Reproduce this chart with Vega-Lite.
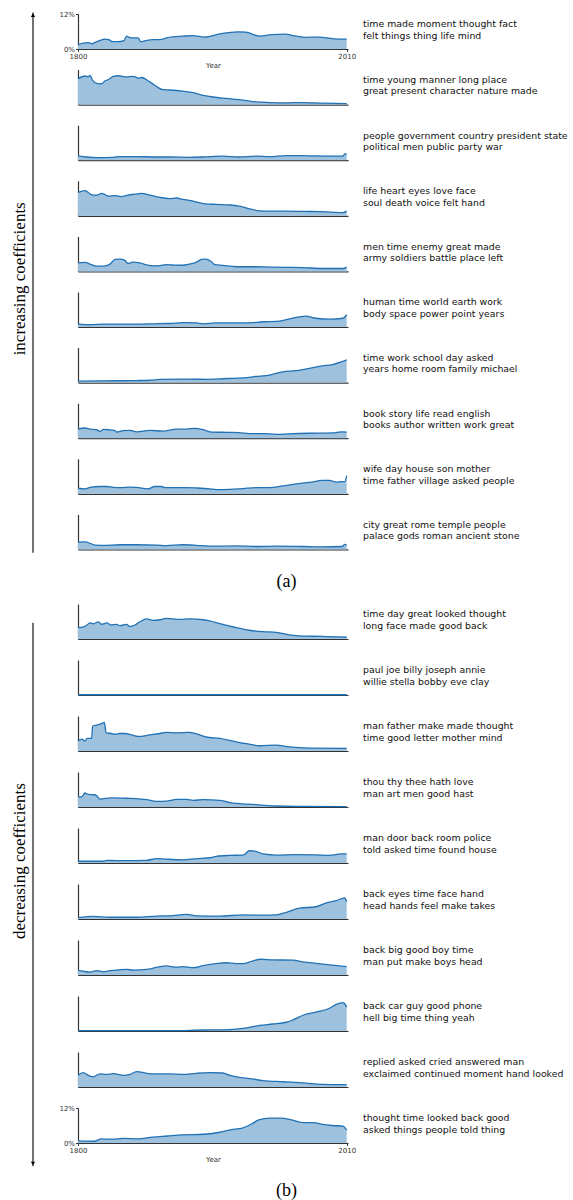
{
"$schema": "https://vega.github.io/schema/vega-lite/v6.json",
"padding": {"top": 10, "left": 0, "right": 0, "bottom": 0},
"datasets": {
"s": [
{"t":1,"x":1800,"y":1.4},{"t":1,"x":1804,"y":2.0},{"t":1,"x":1808,"y":2.2},{"t":1,"x":1811,"y":1.8},{"t":1,"x":1813,"y":2.2},{"t":1,"x":1817,"y":2.9},{"t":1,"x":1821,"y":3.4},{"t":1,"x":1824,"y":3.2},{"t":1,"x":1827,"y":2.5},{"t":1,"x":1831,"y":2.5},{"t":1,"x":1836,"y":2.9},{"t":1,"x":1838,"y":4.4},{"t":1,"x":1840,"y":4.0},{"t":1,"x":1843,"y":3.8},{"t":1,"x":1847,"y":3.8},{"t":1,"x":1849,"y":2.5},{"t":1,"x":1853,"y":2.9},{"t":1,"x":1859,"y":3.2},{"t":1,"x":1864,"y":3.2},{"t":1,"x":1870,"y":3.9},{"t":1,"x":1882,"y":4.4},{"t":1,"x":1890,"y":4.6},{"t":1,"x":1899,"y":4.1},{"t":1,"x":1911,"y":5.2},{"t":1,"x":1925,"y":5.9},{"t":1,"x":1931,"y":5.8},{"t":1,"x":1942,"y":4.4},{"t":1,"x":1951,"y":4.9},{"t":1,"x":1962,"y":5.1},{"t":1,"x":1968,"y":4.6},{"t":1,"x":1977,"y":4.0},{"t":1,"x":1988,"y":4.1},{"t":1,"x":2000,"y":3.5},{"t":1,"x":2010,"y":3.4},
{"t":2,"x":1800,"y":8.9},{"t":2,"x":1805.5,"y":9.8},{"t":2,"x":1808,"y":9.5},{"t":2,"x":1809.4,"y":10.0},{"t":2,"x":1811.4,"y":8.3},{"t":2,"x":1815,"y":7.2},{"t":2,"x":1818.5,"y":7.2},{"t":2,"x":1821,"y":8.1},{"t":2,"x":1824,"y":8.6},{"t":2,"x":1827.6,"y":9.7},{"t":2,"x":1831.5,"y":9.9},{"t":2,"x":1838,"y":9.5},{"t":2,"x":1843,"y":9.7},{"t":2,"x":1847,"y":9.1},{"t":2,"x":1849.7,"y":9.3},{"t":2,"x":1855,"y":8.1},{"t":2,"x":1858.8,"y":7.0},{"t":2,"x":1862.7,"y":5.8},{"t":2,"x":1866.6,"y":5.1},{"t":2,"x":1871.8,"y":5.0},{"t":2,"x":1882,"y":4.6},{"t":2,"x":1890,"y":4.1},{"t":2,"x":1897.8,"y":3.2},{"t":2,"x":1905.6,"y":2.6},{"t":2,"x":1916,"y":2.1},{"t":2,"x":1929,"y":1.5},{"t":2,"x":1939,"y":0.9},{"t":2,"x":1949.8,"y":0.7},{"t":2,"x":1962.8,"y":0.6},{"t":2,"x":1975.8,"y":0.7},{"t":2,"x":1991,"y":0.5},{"t":2,"x":2010,"y":0.35},
{"t":3,"x":1800,"y":1.5},{"t":3,"x":1807,"y":1.1},{"t":3,"x":1814.6,"y":0.9},{"t":3,"x":1827.6,"y":1.0},{"t":3,"x":1832.8,"y":1.25},{"t":3,"x":1845.8,"y":1.25},{"t":3,"x":1861.4,"y":1.1},{"t":3,"x":1871.8,"y":1.1},{"t":3,"x":1887,"y":1.0},{"t":3,"x":1897.8,"y":1.1},{"t":3,"x":1913,"y":1.4},{"t":3,"x":1926,"y":1.1},{"t":3,"x":1939,"y":1.4},{"t":3,"x":1949.8,"y":1.25},{"t":3,"x":1962.8,"y":1.6},{"t":3,"x":1981,"y":1.5},{"t":3,"x":1996.6,"y":1.4},{"t":3,"x":2007,"y":1.4},{"t":3,"x":2008.5,"y":2.2},{"t":3,"x":2010,"y":2.1},
{"t":4,"x":1800,"y":8.0},{"t":4,"x":1805.5,"y":8.6},{"t":4,"x":1808,"y":8.0},{"t":4,"x":1810.7,"y":7.2},{"t":4,"x":1814.6,"y":7.1},{"t":4,"x":1818.5,"y":7.7},{"t":4,"x":1821,"y":7.3},{"t":4,"x":1823.7,"y":6.7},{"t":4,"x":1829,"y":6.9},{"t":4,"x":1834,"y":6.6},{"t":4,"x":1839,"y":7.1},{"t":4,"x":1844.5,"y":7.4},{"t":4,"x":1849.7,"y":7.7},{"t":4,"x":1856,"y":7.1},{"t":4,"x":1864,"y":6.3},{"t":4,"x":1871.8,"y":5.9},{"t":4,"x":1877,"y":6.1},{"t":4,"x":1882,"y":5.6},{"t":4,"x":1887,"y":5.3},{"t":4,"x":1897.8,"y":4.2},{"t":4,"x":1908,"y":3.9},{"t":4,"x":1918.6,"y":3.7},{"t":4,"x":1926,"y":3.3},{"t":4,"x":1934,"y":2.4},{"t":4,"x":1942,"y":1.7},{"t":4,"x":1949.8,"y":1.6},{"t":4,"x":1962.8,"y":1.6},{"t":4,"x":1975.8,"y":1.5},{"t":4,"x":1991,"y":1.4},{"t":4,"x":2007,"y":1.1},{"t":4,"x":2010,"y":1.6},
{"t":5,"x":1800,"y":2.9},{"t":5,"x":1805.5,"y":3.1},{"t":5,"x":1809.4,"y":2.5},{"t":5,"x":1814.6,"y":1.8},{"t":5,"x":1820,"y":1.8},{"t":5,"x":1825,"y":2.5},{"t":5,"x":1829,"y":4.1},{"t":5,"x":1832.8,"y":4.2},{"t":5,"x":1836.7,"y":3.8},{"t":5,"x":1839,"y":2.7},{"t":5,"x":1843,"y":3.2},{"t":5,"x":1848.4,"y":2.9},{"t":5,"x":1853.6,"y":2.2},{"t":5,"x":1858.8,"y":1.9},{"t":5,"x":1864,"y":2.0},{"t":5,"x":1869,"y":2.3},{"t":5,"x":1874,"y":2.2},{"t":5,"x":1882,"y":2.1},{"t":5,"x":1887,"y":2.5},{"t":5,"x":1892.6,"y":3.2},{"t":5,"x":1896.5,"y":4.1},{"t":5,"x":1900,"y":4.2},{"t":5,"x":1904,"y":3.4},{"t":5,"x":1907,"y":2.3},{"t":5,"x":1913,"y":2.1},{"t":5,"x":1923.8,"y":1.6},{"t":5,"x":1936.8,"y":1.6},{"t":5,"x":1949.8,"y":1.5},{"t":5,"x":1962.8,"y":1.4},{"t":5,"x":1975.8,"y":1.3},{"t":5,"x":1991,"y":1.0},{"t":5,"x":2007,"y":1.0},{"t":5,"x":2010,"y":1.4},
{"t":6,"x":1800,"y":1.0},{"t":6,"x":1809.4,"y":0.8},{"t":6,"x":1820,"y":1.0},{"t":6,"x":1832.8,"y":1.0},{"t":6,"x":1845.8,"y":1.0},{"t":6,"x":1858.8,"y":1.1},{"t":6,"x":1871.8,"y":1.2},{"t":6,"x":1882,"y":1.5},{"t":6,"x":1892.6,"y":1.4},{"t":6,"x":1897.8,"y":1.1},{"t":6,"x":1908,"y":1.4},{"t":6,"x":1923.8,"y":1.4},{"t":6,"x":1934,"y":1.4},{"t":6,"x":1944.6,"y":1.8},{"t":6,"x":1955,"y":1.9},{"t":6,"x":1962.8,"y":2.5},{"t":6,"x":1973,"y":3.5},{"t":6,"x":1978,"y":3.7},{"t":6,"x":1986,"y":3.0},{"t":6,"x":1996.6,"y":2.7},{"t":6,"x":2007,"y":3.0},{"t":6,"x":2010,"y":4.2},
{"t":7,"x":1800,"y":0.5},{"t":7,"x":1820,"y":0.6},{"t":7,"x":1845.8,"y":0.7},{"t":7,"x":1856,"y":0.8},{"t":7,"x":1864,"y":1.1},{"t":7,"x":1884.8,"y":1.2},{"t":7,"x":1903,"y":1.1},{"t":7,"x":1916,"y":1.4},{"t":7,"x":1929,"y":1.6},{"t":7,"x":1939,"y":2.1},{"t":7,"x":1949.8,"y":2.6},{"t":7,"x":1960,"y":3.7},{"t":7,"x":1970.6,"y":4.1},{"t":7,"x":1981,"y":4.9},{"t":7,"x":1991,"y":5.7},{"t":7,"x":1999,"y":6.2},{"t":7,"x":2005.7,"y":7.1},{"t":7,"x":2010,"y":7.8},
{"t":8,"x":1800,"y":3.1},{"t":8,"x":1805.5,"y":3.5},{"t":8,"x":1809.4,"y":3.1},{"t":8,"x":1814.6,"y":2.9},{"t":8,"x":1817,"y":2.3},{"t":8,"x":1820,"y":3.0},{"t":8,"x":1823.7,"y":2.9},{"t":8,"x":1829,"y":2.6},{"t":8,"x":1830,"y":2.1},{"t":8,"x":1835.4,"y":2.6},{"t":8,"x":1840.6,"y":2.7},{"t":8,"x":1845.8,"y":2.2},{"t":8,"x":1856,"y":2.7},{"t":8,"x":1866.6,"y":2.4},{"t":8,"x":1877,"y":3.1},{"t":8,"x":1884.8,"y":3.1},{"t":8,"x":1891,"y":3.4},{"t":8,"x":1897.8,"y":2.9},{"t":8,"x":1903,"y":2.2},{"t":8,"x":1916,"y":2.0},{"t":8,"x":1926,"y":1.9},{"t":8,"x":1934,"y":1.6},{"t":8,"x":1944.6,"y":1.6},{"t":8,"x":1955,"y":1.3},{"t":8,"x":1965,"y":1.5},{"t":8,"x":1981,"y":1.7},{"t":8,"x":1999,"y":1.8},{"t":8,"x":2005.7,"y":2.2},{"t":8,"x":2010,"y":2.1},
{"t":9,"x":1800,"y":1.9},{"t":9,"x":1805.5,"y":1.7},{"t":9,"x":1809.4,"y":2.2},{"t":9,"x":1817,"y":2.5},{"t":9,"x":1822.4,"y":2.5},{"t":9,"x":1827.6,"y":2.2},{"t":9,"x":1832.8,"y":2.1},{"t":9,"x":1840.6,"y":2.3},{"t":9,"x":1845.8,"y":2.2},{"t":9,"x":1855,"y":1.7},{"t":9,"x":1860,"y":2.5},{"t":9,"x":1865,"y":2.5},{"t":9,"x":1869,"y":2.1},{"t":9,"x":1882,"y":2.1},{"t":9,"x":1892.6,"y":2.0},{"t":9,"x":1903,"y":1.7},{"t":9,"x":1908,"y":1.4},{"t":9,"x":1918.6,"y":1.5},{"t":9,"x":1929,"y":1.8},{"t":9,"x":1939,"y":2.1},{"t":9,"x":1949.8,"y":2.1},{"t":9,"x":1960,"y":2.7},{"t":9,"x":1970.6,"y":3.4},{"t":9,"x":1981,"y":3.9},{"t":9,"x":1991,"y":4.6},{"t":9,"x":1996.6,"y":4.6},{"t":9,"x":2001.8,"y":4.0},{"t":9,"x":2005.7,"y":4.2},{"t":9,"x":2008.5,"y":4.2},{"t":9,"x":2010,"y":6.2},
{"t":10,"x":1800,"y":2.5},{"t":10,"x":1805.5,"y":2.6},{"t":10,"x":1809.4,"y":2.1},{"t":10,"x":1813.3,"y":1.5},{"t":10,"x":1820,"y":1.4},{"t":10,"x":1832.8,"y":1.6},{"t":10,"x":1845.8,"y":1.6},{"t":10,"x":1861.4,"y":1.5},{"t":10,"x":1869,"y":1.3},{"t":10,"x":1882,"y":1.6},{"t":10,"x":1892.6,"y":1.4},{"t":10,"x":1903,"y":1.1},{"t":10,"x":1923.8,"y":1.2},{"t":10,"x":1939,"y":1.0},{"t":10,"x":1955,"y":1.1},{"t":10,"x":1975.8,"y":1.0},{"t":10,"x":1991,"y":0.9},{"t":10,"x":2006.5,"y":1.0},{"t":10,"x":2008.5,"y":1.7},{"t":10,"x":2010,"y":1.4},
{"t":11,"x":1800,"y":3.9},{"t":11,"x":1804,"y":4.1},{"t":11,"x":1807,"y":4.8},{"t":11,"x":1809.4,"y":5.5},{"t":11,"x":1812,"y":5.2},{"t":11,"x":1816,"y":5.9},{"t":11,"x":1818.5,"y":5.0},{"t":11,"x":1822.4,"y":5.5},{"t":11,"x":1826,"y":4.8},{"t":11,"x":1830,"y":5.0},{"t":11,"x":1832.8,"y":4.6},{"t":11,"x":1838,"y":5.0},{"t":11,"x":1840.6,"y":4.3},{"t":11,"x":1844.5,"y":4.8},{"t":11,"x":1848.4,"y":5.9},{"t":11,"x":1853.6,"y":6.9},{"t":11,"x":1858.8,"y":6.4},{"t":11,"x":1864,"y":6.6},{"t":11,"x":1869,"y":7.1},{"t":11,"x":1879.6,"y":6.7},{"t":11,"x":1887,"y":6.9},{"t":11,"x":1897.8,"y":6.6},{"t":11,"x":1903,"y":6.2},{"t":11,"x":1910.8,"y":5.3},{"t":11,"x":1923.8,"y":3.9},{"t":11,"x":1934,"y":3.0},{"t":11,"x":1944.6,"y":2.5},{"t":11,"x":1955,"y":2.3},{"t":11,"x":1965,"y":1.4},{"t":11,"x":1975.8,"y":1.0},{"t":11,"x":1991,"y":0.9},{"t":11,"x":2010,"y":0.6},
{"t":12,"x":1800,"y":0.08},{"t":12,"x":1900,"y":0.08},{"t":12,"x":2010,"y":0.08},
{"t":13,"x":1800,"y":3.4},{"t":13,"x":1803,"y":4.1},{"t":13,"x":1805.5,"y":3.4},{"t":13,"x":1807,"y":4.3},{"t":13,"x":1810.7,"y":4.3},{"t":13,"x":1811.4,"y":8.5},{"t":13,"x":1814.6,"y":8.9},{"t":13,"x":1818.5,"y":9.4},{"t":13,"x":1820.6,"y":9.8},{"t":13,"x":1822,"y":6.2},{"t":13,"x":1826,"y":6.0},{"t":13,"x":1829,"y":5.7},{"t":13,"x":1832.8,"y":6.0},{"t":13,"x":1836.7,"y":6.0},{"t":13,"x":1842,"y":5.5},{"t":13,"x":1847,"y":5.0},{"t":13,"x":1856,"y":5.5},{"t":13,"x":1864,"y":6.0},{"t":13,"x":1869,"y":6.4},{"t":13,"x":1877,"y":6.2},{"t":13,"x":1886,"y":6.4},{"t":13,"x":1892.6,"y":5.9},{"t":13,"x":1900,"y":4.8},{"t":13,"x":1910.8,"y":4.3},{"t":13,"x":1921,"y":3.4},{"t":13,"x":1931.6,"y":2.5},{"t":13,"x":1942,"y":1.8},{"t":13,"x":1955,"y":2.0},{"t":13,"x":1965,"y":1.4},{"t":13,"x":1981,"y":1.0},{"t":13,"x":2010,"y":0.9},
{"t":14,"x":1800,"y":3.5},{"t":14,"x":1803,"y":3.5},{"t":14,"x":1805.5,"y":4.8},{"t":14,"x":1808,"y":4.3},{"t":14,"x":1812,"y":4.2},{"t":14,"x":1814.6,"y":3.9},{"t":14,"x":1817,"y":2.7},{"t":14,"x":1820,"y":2.9},{"t":14,"x":1827.6,"y":3.1},{"t":14,"x":1838,"y":3.0},{"t":14,"x":1845.8,"y":2.9},{"t":14,"x":1853.6,"y":2.5},{"t":14,"x":1861.4,"y":1.9},{"t":14,"x":1869,"y":2.0},{"t":14,"x":1877,"y":2.6},{"t":14,"x":1884.8,"y":2.6},{"t":14,"x":1890,"y":2.3},{"t":14,"x":1897.8,"y":2.5},{"t":14,"x":1910.8,"y":2.3},{"t":14,"x":1916,"y":1.8},{"t":14,"x":1921,"y":1.3},{"t":14,"x":1931.6,"y":1.0},{"t":14,"x":1942,"y":0.7},{"t":14,"x":1955,"y":0.35},{"t":14,"x":1975.8,"y":0.2},{"t":14,"x":2010,"y":0.1},
{"t":15,"x":1800,"y":0.6},{"t":15,"x":1820,"y":0.6},{"t":15,"x":1822.4,"y":0.9},{"t":15,"x":1830,"y":0.8},{"t":15,"x":1835.4,"y":0.8},{"t":15,"x":1853.6,"y":0.9},{"t":15,"x":1861.4,"y":1.5},{"t":15,"x":1869,"y":1.3},{"t":15,"x":1882,"y":1.1},{"t":15,"x":1892.6,"y":1.5},{"t":15,"x":1903,"y":1.8},{"t":15,"x":1908,"y":2.3},{"t":15,"x":1918.6,"y":2.6},{"t":15,"x":1929,"y":2.7},{"t":15,"x":1934,"y":4.2},{"t":15,"x":1938,"y":4.1},{"t":15,"x":1944.6,"y":3.1},{"t":15,"x":1955,"y":2.7},{"t":15,"x":1970.6,"y":2.9},{"t":15,"x":1986,"y":2.8},{"t":15,"x":1996.6,"y":2.6},{"t":15,"x":2005.7,"y":3.1},{"t":15,"x":2010,"y":3.1},
{"t":16,"x":1800,"y":0.5},{"t":16,"x":1812,"y":0.9},{"t":16,"x":1825,"y":0.6},{"t":16,"x":1845.8,"y":0.6},{"t":16,"x":1861.4,"y":1.0},{"t":16,"x":1871.8,"y":1.1},{"t":16,"x":1884.8,"y":1.6},{"t":16,"x":1892.6,"y":1.1},{"t":16,"x":1910.8,"y":1.0},{"t":16,"x":1929,"y":1.4},{"t":16,"x":1944.6,"y":1.3},{"t":16,"x":1955,"y":1.4},{"t":16,"x":1962.8,"y":2.3},{"t":16,"x":1973,"y":3.7},{"t":16,"x":1986,"y":4.2},{"t":16,"x":1994,"y":5.5},{"t":16,"x":2001.8,"y":6.3},{"t":16,"x":2008.3,"y":7.2},{"t":16,"x":2010,"y":5.9},
{"t":17,"x":1800,"y":1.6},{"t":17,"x":1804,"y":1.3},{"t":17,"x":1809.4,"y":1.0},{"t":17,"x":1814.6,"y":1.5},{"t":17,"x":1820,"y":1.1},{"t":17,"x":1825,"y":1.5},{"t":17,"x":1832.8,"y":1.8},{"t":17,"x":1838,"y":1.9},{"t":17,"x":1843,"y":1.7},{"t":17,"x":1853.6,"y":1.9},{"t":17,"x":1861.4,"y":2.6},{"t":17,"x":1869,"y":3.1},{"t":17,"x":1877,"y":2.7},{"t":17,"x":1882,"y":2.9},{"t":17,"x":1890,"y":2.5},{"t":17,"x":1897.8,"y":3.2},{"t":17,"x":1908,"y":3.9},{"t":17,"x":1916,"y":4.2},{"t":17,"x":1923.8,"y":3.9},{"t":17,"x":1929,"y":3.9},{"t":17,"x":1935.5,"y":4.7},{"t":17,"x":1943,"y":5.4},{"t":17,"x":1952,"y":5.2},{"t":17,"x":1968,"y":5.1},{"t":17,"x":1975.8,"y":4.5},{"t":17,"x":1986,"y":4.0},{"t":17,"x":1996.6,"y":3.5},{"t":17,"x":2010,"y":2.9},
{"t":18,"x":1800,"y":0.1},{"t":18,"x":1871.8,"y":0.1},{"t":18,"x":1897.8,"y":0.35},{"t":18,"x":1918.6,"y":0.5},{"t":18,"x":1929,"y":0.9},{"t":18,"x":1942,"y":1.9},{"t":18,"x":1952,"y":2.4},{"t":18,"x":1962.8,"y":3.0},{"t":18,"x":1968,"y":3.8},{"t":18,"x":1975.8,"y":5.4},{"t":18,"x":1986,"y":6.5},{"t":18,"x":1996.6,"y":7.8},{"t":18,"x":2001.8,"y":9.1},{"t":18,"x":2007,"y":9.7},{"t":18,"x":2008.3,"y":9.4},{"t":18,"x":2010,"y":8.2},
{"t":19,"x":1800,"y":4.0},{"t":19,"x":1804,"y":4.9},{"t":19,"x":1808,"y":4.0},{"t":19,"x":1812,"y":3.5},{"t":19,"x":1817,"y":4.5},{"t":19,"x":1822.4,"y":4.3},{"t":19,"x":1827.6,"y":4.6},{"t":19,"x":1835.4,"y":4.0},{"t":19,"x":1840.6,"y":4.3},{"t":19,"x":1845.8,"y":5.3},{"t":19,"x":1853.6,"y":4.7},{"t":19,"x":1861.4,"y":4.5},{"t":19,"x":1871.8,"y":4.5},{"t":19,"x":1882,"y":4.3},{"t":19,"x":1892.6,"y":4.7},{"t":19,"x":1903,"y":4.9},{"t":19,"x":1913,"y":4.8},{"t":19,"x":1918.6,"y":4.0},{"t":19,"x":1926,"y":3.3},{"t":19,"x":1934,"y":2.9},{"t":19,"x":1944.6,"y":2.2},{"t":19,"x":1960,"y":1.8},{"t":19,"x":1975.8,"y":1.4},{"t":19,"x":1991,"y":0.9},{"t":19,"x":2010,"y":0.8},
{"t":20,"x":1800,"y":0.7},{"t":20,"x":1812.6,"y":0.6},{"t":20,"x":1818.3,"y":1.4},{"t":20,"x":1826.9,"y":1.3},{"t":20,"x":1835.5,"y":1.6},{"t":20,"x":1847,"y":1.4},{"t":20,"x":1858.3,"y":2.0},{"t":20,"x":1869.8,"y":2.4},{"t":20,"x":1881.2,"y":2.8},{"t":20,"x":1898.4,"y":3.0},{"t":20,"x":1909.8,"y":3.6},{"t":20,"x":1921.3,"y":4.7},{"t":20,"x":1928.4,"y":5.1},{"t":20,"x":1935.6,"y":6.5},{"t":20,"x":1941.3,"y":7.9},{"t":20,"x":1949.9,"y":8.5},{"t":20,"x":1958.4,"y":8.5},{"t":20,"x":1967,"y":7.9},{"t":20,"x":1975.6,"y":7.0},{"t":20,"x":1984.2,"y":7.0},{"t":20,"x":1989.9,"y":6.5},{"t":20,"x":1998.5,"y":6.0},{"t":20,"x":2007,"y":5.8},{"t":20,"x":2010,"y":4.4}
],
"lab": [
{"t":1,"l":"time made moment thought fact\nfelt things thing life mind"},
{"t":2,"l":"time young manner long place\ngreat present character nature made"},
{"t":3,"l":"people government country president state\npolitical men public party war"},
{"t":4,"l":"life heart eyes love face\nsoul death voice felt hand"},
{"t":5,"l":"men time enemy great made\narmy soldiers battle place left"},
{"t":6,"l":"human time world earth work\nbody space power point years"},
{"t":7,"l":"time work school day asked\nyears home room family michael"},
{"t":8,"l":"book story life read english\nbooks author written work great"},
{"t":9,"l":"wife day house son mother\ntime father village asked people"},
{"t":10,"l":"city great rome temple people\npalace gods roman ancient stone"},
{"t":11,"l":"time day great looked thought\nlong face made good back"},
{"t":12,"l":"paul joe billy joseph annie\nwillie stella bobby eve clay"},
{"t":13,"l":"man father make made thought\ntime good letter mother mind"},
{"t":14,"l":"thou thy thee hath love\nman art men good hast"},
{"t":15,"l":"man door back room police\ntold asked time found house"},
{"t":16,"l":"back eyes time face hand\nhead hands feel make takes"},
{"t":17,"l":"back big good boy time\nman put make boys head"},
{"t":18,"l":"back car guy good phone\nhell big time thing yeah"},
{"t":19,"l":"replied asked cried answered man\nexclaimed continued moment hand looked"},
{"t":20,"l":"thought time looked back good\nasked things people told thing"}
]
},
"data": {"name": "s"},
"config": {
"view": {"stroke": null},
"text": {"font": "DejaVu Sans", "fontSize": 9.4, "align": "left", "baseline": "middle", "dx": 15, "dy": -7.2, "lineHeight": 11.5, "lineBreak": "\n", "color": "#111"},
"axis": {"grid": false, "labels": false, "ticks": false, "domainColor": "#333", "domainWidth": 1.2, "labelFont": "DejaVu Sans", "labelFontSize": 7, "labelColor": "#333", "labelFlush": false, "labelOverlap": false, "titleFont": "DejaVu Sans", "titleFontSize": 7, "titleFontWeight": "normal", "titleColor": "#333", "tickColor": "#333", "tickSize": 2.5, "labelPadding": 1, "titlePadding": 2}
},
"spacing": 10,
"vconcat": [
{"hconcat": [
{"width": 40, "height": 535, "data": {"values": [{}]}, "layer": [
{"mark": {"type": "rule", "color": "#000", "strokeWidth": 1.1}, "encoding": {"x": {"datum": 33, "scale": {"domain": [0, 40]}, "axis": null}, "y": {"datum": -0.7, "scale": {"domain": [0, 100]}, "axis": null}, "y2": {"datum": 100.3}}},
{"mark": {"type": "point", "shape": "triangle-up", "filled": true, "opacity": 1, "color": "#000", "size": 18}, "encoding": {"x": {"datum": 33, "axis": null}, "y": {"datum": 99.8, "axis": null}}},
{"mark": {"type": "text", "angle": 270, "font": "Liberation Serif", "fontSize": 17, "align": "center", "baseline": "middle", "dx": 0, "dy": 0, "color": "#000"}, "encoding": {"x": {"datum": 20, "axis": null}, "y": {"datum": 50.5, "axis": null}, "text": {"value": "increasing coefficients"}}}
]},
{"vconcat": [
{"width": 270, "height": 35, "layer": [{"transform": [{"filter": "datum.t==1"}], "mark": {"type": "area", "color": "#9ec2de", "opacity": 1, "interpolate": "monotone", "line": {"color": "#2171b5", "strokeWidth": 1.3}}, "encoding": {"x": {"field": "x", "type": "quantitative", "scale": {"domain": [1800, 2011]}, "title": "Year", "axis": {"labels": true, "ticks": true, "values": [1800, 2010], "format": "d"}}, "y": {"field": "y", "type": "quantitative", "scale": {"domain": [0, 12]}, "title": null, "axis": {"labels": true, "ticks": true, "values": [0, 12], "labelExpr": "datum.value + '%'"}}}}, {"data": {"name": "lab"}, "transform": [{"filter": "datum.t==1"}], "mark": "text", "encoding": {"x": {"datum": 2011, "scale": {"domain": [1800, 2011]}}, "y": {"datum": 6, "scale": {"domain": [0, 12]}}, "text": {"field": "l", "type": "nominal"}}}]},
{"width": 270, "height": 35, "layer": [{"transform": [{"filter": "datum.t==2"}], "mark": {"type": "area", "color": "#9ec2de", "opacity": 1, "interpolate": "monotone", "line": {"color": "#2171b5", "strokeWidth": 1.3}}, "encoding": {"x": {"field": "x", "type": "quantitative", "scale": {"domain": [1800, 2011]}, "title": null}, "y": {"field": "y", "type": "quantitative", "scale": {"domain": [0, 12]}, "title": null}}}, {"data": {"name": "lab"}, "transform": [{"filter": "datum.t==2"}], "mark": "text", "encoding": {"x": {"datum": 2011, "scale": {"domain": [1800, 2011]}}, "y": {"datum": 6, "scale": {"domain": [0, 12]}}, "text": {"field": "l", "type": "nominal"}}}]},
{"width": 270, "height": 35, "layer": [{"transform": [{"filter": "datum.t==3"}], "mark": {"type": "area", "color": "#9ec2de", "opacity": 1, "interpolate": "monotone", "line": {"color": "#2171b5", "strokeWidth": 1.3}}, "encoding": {"x": {"field": "x", "type": "quantitative", "scale": {"domain": [1800, 2011]}, "title": null}, "y": {"field": "y", "type": "quantitative", "scale": {"domain": [0, 12]}, "title": null}}}, {"data": {"name": "lab"}, "transform": [{"filter": "datum.t==3"}], "mark": "text", "encoding": {"x": {"datum": 2011, "scale": {"domain": [1800, 2011]}}, "y": {"datum": 6, "scale": {"domain": [0, 12]}}, "text": {"field": "l", "type": "nominal"}}}]},
{"width": 270, "height": 35, "layer": [{"transform": [{"filter": "datum.t==4"}], "mark": {"type": "area", "color": "#9ec2de", "opacity": 1, "interpolate": "monotone", "line": {"color": "#2171b5", "strokeWidth": 1.3}}, "encoding": {"x": {"field": "x", "type": "quantitative", "scale": {"domain": [1800, 2011]}, "title": null}, "y": {"field": "y", "type": "quantitative", "scale": {"domain": [0, 12]}, "title": null}}}, {"data": {"name": "lab"}, "transform": [{"filter": "datum.t==4"}], "mark": "text", "encoding": {"x": {"datum": 2011, "scale": {"domain": [1800, 2011]}}, "y": {"datum": 6, "scale": {"domain": [0, 12]}}, "text": {"field": "l", "type": "nominal"}}}]},
{"width": 270, "height": 35, "layer": [{"transform": [{"filter": "datum.t==5"}], "mark": {"type": "area", "color": "#9ec2de", "opacity": 1, "interpolate": "monotone", "line": {"color": "#2171b5", "strokeWidth": 1.3}}, "encoding": {"x": {"field": "x", "type": "quantitative", "scale": {"domain": [1800, 2011]}, "title": null}, "y": {"field": "y", "type": "quantitative", "scale": {"domain": [0, 12]}, "title": null}}}, {"data": {"name": "lab"}, "transform": [{"filter": "datum.t==5"}], "mark": "text", "encoding": {"x": {"datum": 2011, "scale": {"domain": [1800, 2011]}}, "y": {"datum": 6, "scale": {"domain": [0, 12]}}, "text": {"field": "l", "type": "nominal"}}}]},
{"width": 270, "height": 35, "layer": [{"transform": [{"filter": "datum.t==6"}], "mark": {"type": "area", "color": "#9ec2de", "opacity": 1, "interpolate": "monotone", "line": {"color": "#2171b5", "strokeWidth": 1.3}}, "encoding": {"x": {"field": "x", "type": "quantitative", "scale": {"domain": [1800, 2011]}, "title": null}, "y": {"field": "y", "type": "quantitative", "scale": {"domain": [0, 12]}, "title": null}}}, {"data": {"name": "lab"}, "transform": [{"filter": "datum.t==6"}], "mark": "text", "encoding": {"x": {"datum": 2011, "scale": {"domain": [1800, 2011]}}, "y": {"datum": 6, "scale": {"domain": [0, 12]}}, "text": {"field": "l", "type": "nominal"}}}]},
{"width": 270, "height": 35, "layer": [{"transform": [{"filter": "datum.t==7"}], "mark": {"type": "area", "color": "#9ec2de", "opacity": 1, "interpolate": "monotone", "line": {"color": "#2171b5", "strokeWidth": 1.3}}, "encoding": {"x": {"field": "x", "type": "quantitative", "scale": {"domain": [1800, 2011]}, "title": null}, "y": {"field": "y", "type": "quantitative", "scale": {"domain": [0, 12]}, "title": null}}}, {"data": {"name": "lab"}, "transform": [{"filter": "datum.t==7"}], "mark": "text", "encoding": {"x": {"datum": 2011, "scale": {"domain": [1800, 2011]}}, "y": {"datum": 6, "scale": {"domain": [0, 12]}}, "text": {"field": "l", "type": "nominal"}}}]},
{"width": 270, "height": 35, "layer": [{"transform": [{"filter": "datum.t==8"}], "mark": {"type": "area", "color": "#9ec2de", "opacity": 1, "interpolate": "monotone", "line": {"color": "#2171b5", "strokeWidth": 1.3}}, "encoding": {"x": {"field": "x", "type": "quantitative", "scale": {"domain": [1800, 2011]}, "title": null}, "y": {"field": "y", "type": "quantitative", "scale": {"domain": [0, 12]}, "title": null}}}, {"data": {"name": "lab"}, "transform": [{"filter": "datum.t==8"}], "mark": "text", "encoding": {"x": {"datum": 2011, "scale": {"domain": [1800, 2011]}}, "y": {"datum": 6, "scale": {"domain": [0, 12]}}, "text": {"field": "l", "type": "nominal"}}}]},
{"width": 270, "height": 35, "layer": [{"transform": [{"filter": "datum.t==9"}], "mark": {"type": "area", "color": "#9ec2de", "opacity": 1, "interpolate": "monotone", "line": {"color": "#2171b5", "strokeWidth": 1.3}}, "encoding": {"x": {"field": "x", "type": "quantitative", "scale": {"domain": [1800, 2011]}, "title": null}, "y": {"field": "y", "type": "quantitative", "scale": {"domain": [0, 12]}, "title": null}}}, {"data": {"name": "lab"}, "transform": [{"filter": "datum.t==9"}], "mark": "text", "encoding": {"x": {"datum": 2011, "scale": {"domain": [1800, 2011]}}, "y": {"datum": 6, "scale": {"domain": [0, 12]}}, "text": {"field": "l", "type": "nominal"}}}]},
{"width": 270, "height": 35, "layer": [{"transform": [{"filter": "datum.t==10"}], "mark": {"type": "area", "color": "#9ec2de", "opacity": 1, "interpolate": "monotone", "line": {"color": "#2171b5", "strokeWidth": 1.3}}, "encoding": {"x": {"field": "x", "type": "quantitative", "scale": {"domain": [1800, 2011]}, "title": null}, "y": {"field": "y", "type": "quantitative", "scale": {"domain": [0, 12]}, "title": null}}}, {"data": {"name": "lab"}, "transform": [{"filter": "datum.t==10"}], "mark": "text", "encoding": {"x": {"datum": 2011, "scale": {"domain": [1800, 2011]}}, "y": {"datum": 6, "scale": {"domain": [0, 12]}}, "text": {"field": "l", "type": "nominal"}}}]}
], "spacing": 20.6, "bounds": "flush"}
], "spacing": 18},
{"width": 573, "height": 30, "data": {"values": [{}]}, "mark": {"type": "text", "font": "Liberation Serif", "fontSize": 18, "align": "center", "baseline": "middle", "dx": 0, "dy": 3, "color": "#000"}, "encoding": {"text": {"value": "(a)"}}},
{"hconcat": [
{"width": 40, "height": 539, "data": {"values": [{}]}, "layer": [
{"mark": {"type": "rule", "color": "#000", "strokeWidth": 1.1}, "encoding": {"x": {"datum": 33, "scale": {"domain": [0, 40]}, "axis": null}, "y": {"datum": -4.3, "scale": {"domain": [0, 100]}, "axis": null}, "y2": {"datum": 96.5}}},
{"mark": {"type": "point", "shape": "triangle-down", "filled": true, "opacity": 1, "color": "#000", "size": 18}, "encoding": {"x": {"datum": 33, "axis": null}, "y": {"datum": -3.8, "axis": null}}},
{"mark": {"type": "text", "angle": 270, "font": "Liberation Serif", "fontSize": 17, "align": "center", "baseline": "middle", "dx": 0, "dy": 0, "color": "#000"}, "encoding": {"x": {"datum": 20, "axis": null}, "y": {"datum": 52.3, "axis": null}, "text": {"value": "decreasing coefficients"}}}
]},
{"vconcat": [
{"width": 270, "height": 35, "layer": [{"transform": [{"filter": "datum.t==11"}], "mark": {"type": "area", "color": "#9ec2de", "opacity": 1, "interpolate": "monotone", "line": {"color": "#2171b5", "strokeWidth": 1.3}}, "encoding": {"x": {"field": "x", "type": "quantitative", "scale": {"domain": [1800, 2011]}, "title": null}, "y": {"field": "y", "type": "quantitative", "scale": {"domain": [0, 12]}, "title": null}}}, {"data": {"name": "lab"}, "transform": [{"filter": "datum.t==11"}], "mark": "text", "encoding": {"x": {"datum": 2011, "scale": {"domain": [1800, 2011]}}, "y": {"datum": 6, "scale": {"domain": [0, 12]}}, "text": {"field": "l", "type": "nominal"}}}]},
{"width": 270, "height": 35, "layer": [{"transform": [{"filter": "datum.t==12"}], "mark": {"type": "area", "color": "#9ec2de", "opacity": 1, "interpolate": "monotone", "line": {"color": "#2171b5", "strokeWidth": 1.3}}, "encoding": {"x": {"field": "x", "type": "quantitative", "scale": {"domain": [1800, 2011]}, "title": null}, "y": {"field": "y", "type": "quantitative", "scale": {"domain": [0, 12]}, "title": null}}}, {"data": {"name": "lab"}, "transform": [{"filter": "datum.t==12"}], "mark": "text", "encoding": {"x": {"datum": 2011, "scale": {"domain": [1800, 2011]}}, "y": {"datum": 6, "scale": {"domain": [0, 12]}}, "text": {"field": "l", "type": "nominal"}}}]},
{"width": 270, "height": 35, "layer": [{"transform": [{"filter": "datum.t==13"}], "mark": {"type": "area", "color": "#9ec2de", "opacity": 1, "interpolate": "monotone", "line": {"color": "#2171b5", "strokeWidth": 1.3}}, "encoding": {"x": {"field": "x", "type": "quantitative", "scale": {"domain": [1800, 2011]}, "title": null}, "y": {"field": "y", "type": "quantitative", "scale": {"domain": [0, 12]}, "title": null}}}, {"data": {"name": "lab"}, "transform": [{"filter": "datum.t==13"}], "mark": "text", "encoding": {"x": {"datum": 2011, "scale": {"domain": [1800, 2011]}}, "y": {"datum": 6, "scale": {"domain": [0, 12]}}, "text": {"field": "l", "type": "nominal"}}}]},
{"width": 270, "height": 35, "layer": [{"transform": [{"filter": "datum.t==14"}], "mark": {"type": "area", "color": "#9ec2de", "opacity": 1, "interpolate": "monotone", "line": {"color": "#2171b5", "strokeWidth": 1.3}}, "encoding": {"x": {"field": "x", "type": "quantitative", "scale": {"domain": [1800, 2011]}, "title": null}, "y": {"field": "y", "type": "quantitative", "scale": {"domain": [0, 12]}, "title": null}}}, {"data": {"name": "lab"}, "transform": [{"filter": "datum.t==14"}], "mark": "text", "encoding": {"x": {"datum": 2011, "scale": {"domain": [1800, 2011]}}, "y": {"datum": 6, "scale": {"domain": [0, 12]}}, "text": {"field": "l", "type": "nominal"}}}]},
{"width": 270, "height": 35, "layer": [{"transform": [{"filter": "datum.t==15"}], "mark": {"type": "area", "color": "#9ec2de", "opacity": 1, "interpolate": "monotone", "line": {"color": "#2171b5", "strokeWidth": 1.3}}, "encoding": {"x": {"field": "x", "type": "quantitative", "scale": {"domain": [1800, 2011]}, "title": null}, "y": {"field": "y", "type": "quantitative", "scale": {"domain": [0, 12]}, "title": null}}}, {"data": {"name": "lab"}, "transform": [{"filter": "datum.t==15"}], "mark": "text", "encoding": {"x": {"datum": 2011, "scale": {"domain": [1800, 2011]}}, "y": {"datum": 6, "scale": {"domain": [0, 12]}}, "text": {"field": "l", "type": "nominal"}}}]},
{"width": 270, "height": 35, "layer": [{"transform": [{"filter": "datum.t==16"}], "mark": {"type": "area", "color": "#9ec2de", "opacity": 1, "interpolate": "monotone", "line": {"color": "#2171b5", "strokeWidth": 1.3}}, "encoding": {"x": {"field": "x", "type": "quantitative", "scale": {"domain": [1800, 2011]}, "title": null}, "y": {"field": "y", "type": "quantitative", "scale": {"domain": [0, 12]}, "title": null}}}, {"data": {"name": "lab"}, "transform": [{"filter": "datum.t==16"}], "mark": "text", "encoding": {"x": {"datum": 2011, "scale": {"domain": [1800, 2011]}}, "y": {"datum": 6, "scale": {"domain": [0, 12]}}, "text": {"field": "l", "type": "nominal"}}}]},
{"width": 270, "height": 35, "layer": [{"transform": [{"filter": "datum.t==17"}], "mark": {"type": "area", "color": "#9ec2de", "opacity": 1, "interpolate": "monotone", "line": {"color": "#2171b5", "strokeWidth": 1.3}}, "encoding": {"x": {"field": "x", "type": "quantitative", "scale": {"domain": [1800, 2011]}, "title": null}, "y": {"field": "y", "type": "quantitative", "scale": {"domain": [0, 12]}, "title": null}}}, {"data": {"name": "lab"}, "transform": [{"filter": "datum.t==17"}], "mark": "text", "encoding": {"x": {"datum": 2011, "scale": {"domain": [1800, 2011]}}, "y": {"datum": 6, "scale": {"domain": [0, 12]}}, "text": {"field": "l", "type": "nominal"}}}]},
{"width": 270, "height": 35, "layer": [{"transform": [{"filter": "datum.t==18"}], "mark": {"type": "area", "color": "#9ec2de", "opacity": 1, "interpolate": "monotone", "line": {"color": "#2171b5", "strokeWidth": 1.3}}, "encoding": {"x": {"field": "x", "type": "quantitative", "scale": {"domain": [1800, 2011]}, "title": null}, "y": {"field": "y", "type": "quantitative", "scale": {"domain": [0, 12]}, "title": null}}}, {"data": {"name": "lab"}, "transform": [{"filter": "datum.t==18"}], "mark": "text", "encoding": {"x": {"datum": 2011, "scale": {"domain": [1800, 2011]}}, "y": {"datum": 6, "scale": {"domain": [0, 12]}}, "text": {"field": "l", "type": "nominal"}}}]},
{"width": 270, "height": 35, "layer": [{"transform": [{"filter": "datum.t==19"}], "mark": {"type": "area", "color": "#9ec2de", "opacity": 1, "interpolate": "monotone", "line": {"color": "#2171b5", "strokeWidth": 1.3}}, "encoding": {"x": {"field": "x", "type": "quantitative", "scale": {"domain": [1800, 2011]}, "title": null}, "y": {"field": "y", "type": "quantitative", "scale": {"domain": [0, 12]}, "title": null}}}, {"data": {"name": "lab"}, "transform": [{"filter": "datum.t==19"}], "mark": "text", "encoding": {"x": {"datum": 2011, "scale": {"domain": [1800, 2011]}}, "y": {"datum": 6, "scale": {"domain": [0, 12]}}, "text": {"field": "l", "type": "nominal"}}}]},
{"width": 270, "height": 35, "layer": [{"transform": [{"filter": "datum.t==20"}], "mark": {"type": "area", "color": "#9ec2de", "opacity": 1, "interpolate": "monotone", "line": {"color": "#2171b5", "strokeWidth": 1.3}}, "encoding": {"x": {"field": "x", "type": "quantitative", "scale": {"domain": [1800, 2011]}, "title": "Year", "axis": {"labels": true, "ticks": true, "values": [1800, 2010], "format": "d"}}, "y": {"field": "y", "type": "quantitative", "scale": {"domain": [0, 12]}, "title": null, "axis": {"labels": true, "ticks": true, "values": [0, 12], "labelExpr": "datum.value + '%'"}}}}, {"data": {"name": "lab"}, "transform": [{"filter": "datum.t==20"}], "mark": "text", "encoding": {"x": {"datum": 2011, "scale": {"domain": [1800, 2011]}}, "y": {"datum": 6, "scale": {"domain": [0, 12]}}, "text": {"field": "l", "type": "nominal"}}}]}
], "spacing": 21, "bounds": "flush"}
], "spacing": 18},
{"width": 573, "height": 34, "data": {"values": [{}]}, "mark": {"type": "text", "font": "Liberation Serif", "fontSize": 18, "align": "center", "baseline": "middle", "dx": 0, "dy": -3, "color": "#000"}, "encoding": {"text": {"value": "(b)"}}}
]
}
